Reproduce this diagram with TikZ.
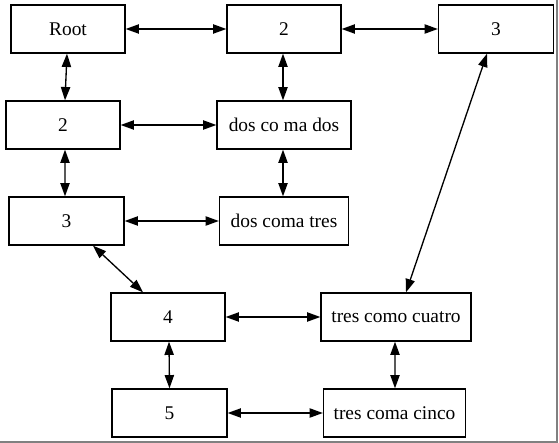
\documentclass[tikz,border=0pt]{standalone}
\usepackage{fontspec}
\setmainfont{Liberation Serif}
\usetikzlibrary{arrows.meta}
\begin{document}
\begin{tikzpicture}[x=1bp,y=-1bp,
  box/.style={draw=black,line width=1.33bp,rectangle,minimum height=48bp,inner sep=0pt,
    font=\fontsize{19.4bp}{22bp}\selectfont},
  link/.style={line width=1.33bp,{Triangle[length=13.3bp,width=9.3bp]}-{Triangle[length=13.3bp,width=9.3bp]}},
  frame/.style={draw=gray,line width=1.33bp}]
\useasboundingbox (0,0) rectangle (559,443);
\node[box,minimum width=114bp] (root) at (68,29) {Root};
\node[box,minimum width=114bp] (b2) at (284,29) {2};
\node[box,minimum width=115bp] (c3) at (496,29) {3};
\node[box,minimum width=114bp] (d2) at (63,125) {2};
\node[box,minimum width=134bp] (dcmd) at (284,125) {dos co ma dos};
\node[box,minimum width=115bp] (e3) at (66.5,221) {3};
\node[box,minimum width=129bp] (dct) at (284,221) {dos coma tres};
\node[box,minimum width=114bp] (f4) at (168,317) {4};
\node[box,minimum width=150bp] (tcc) at (396,317) {tres como cuatro};
\node[box,minimum width=115bp] (g5) at (169.5,413) {5};
\node[box,minimum width=142bp] (tcci) at (394.5,413) {tres coma cinco};
\coordinate (fr1) at (557,0);
\coordinate (fr2) at (557,442);
\coordinate (fr3) at (0,442);
\draw[frame] (fr1) -- (fr2) -- (fr3);
\draw[link] (root) -- (b2);
\draw[link] (b2) -- (c3);
\draw[link] ([xshift=-1bp]root.south) -- ([xshift=2bp]d2.north);
\draw[link] ([xshift=-1bp]b2.south) -- ([xshift=-1bp]dcmd.north);
\draw[link] (d2) -- (dcmd);
\draw[link] ([xshift=2bp]d2.south) -- ([xshift=-1.5bp]e3.north);
\draw[link] ([xshift=-1bp]dcmd.south) -- ([xshift=-1bp]dct.north);
\draw[link] (e3) -- (dct);
\draw[link] ([xshift=26.5bp]e3.south) -- ([xshift=-25bp]f4.north);
\draw[link] ([xshift=-9bp]c3.south) -- ([xshift=10bp]tcc.north);
\draw[link] (f4) -- (tcc);
\draw[link] ([xshift=1bp]f4.south) -- (g5.north);
\draw[link] ([xshift=-1bp]tcc.south) -- ([xshift=0.5bp]tcci.north);
\draw[link] (g5) -- (tcci);
\end{tikzpicture}
\end{document}
